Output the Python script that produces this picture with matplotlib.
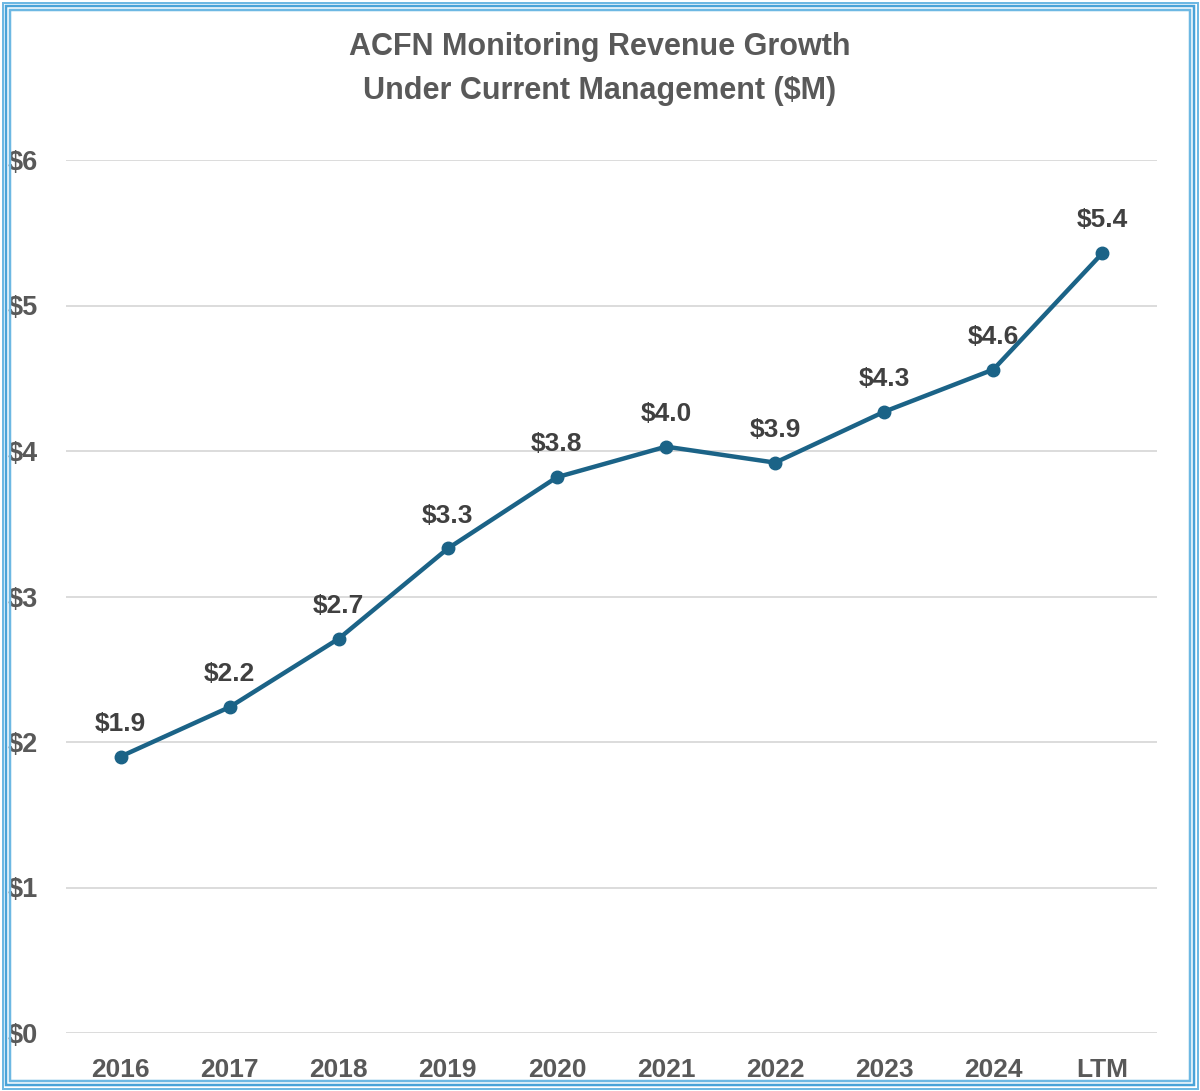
import matplotlib.pyplot as plt
from matplotlib.patches import Rectangle

# chart data ($M)
years = ['2016', '2017', '2018', '2019', '2020', '2021', '2022', '2023', '2024', 'LTM']
revenue = [1.90, 2.24, 2.71, 3.33, 3.82, 4.03, 3.92, 4.27, 4.56, 5.36]
yticks = [0, 1, 2, 3, 4, 5, 6]

line_col = '#1b6387'
grey = '#595959'
dark = '#404040'
plt.rcParams['font.family'] = ['Liberation Sans', 'DejaVu Sans']

W, H = 1200, 1091
fig = plt.figure(figsize=(W / 100, H / 100), dpi=100)
ax = fig.add_axes([66 / W, 1 - 1033 / H, (1157 - 66) / W, (1033 - 160) / H])

x = range(len(years))
ax.plot(x, revenue, color=line_col, lw=3.2, marker='o', ms=9, zorder=3)
for i, v in enumerate(revenue):
    ax.annotate(f'${v:.1f}', (i, v), xytext=(0, 15), textcoords='offset points',
                ha='center', va='bottom', fontsize=19, fontweight='bold', color=dark)

ax.set_xlim(-0.5, len(years) - 0.5)
ax.set_ylim(0, 6)
ax.set_xticks(list(x))
ax.set_xticklabels(years, fontsize=19, fontweight='bold', color=grey)
ax.set_yticks(yticks)
ax.set_yticklabels([f'${t}' for t in yticks], fontsize=19.5, fontweight='bold', color=grey)
for lab in ax.get_yticklabels():
    lab.set_horizontalalignment('left')
ax.tick_params(axis='y', length=0, pad=42)
ax.tick_params(axis='x', length=0, pad=18)
ax.grid(axis='y', color='#d9d9d9', lw=1.3)
ax.set_axisbelow(True)
for s in ax.spines.values():
    s.set_visible(False)

fig.text(0.5, 1 - 47 / H, 'ACFN Monitoring Revenue Growth', ha='center', va='center',
         fontsize=22, fontweight='bold', color=grey)
fig.text(0.5, 1 - 91 / H, 'Under Current Management ($M)', ha='center', va='center',
         fontsize=22, fontweight='bold', color=grey)

# double/triple blue frame around the picture
for off, lw, col in [(2.5, 2.0, '#6db8e3'), (6.0, 2.5, '#4aa3d8'), (10.0, 2.5, '#6db8e3')]:
    fig.patches.append(Rectangle((off / W, off / H), 1 - 2 * off / W, 1 - 2 * off / H,
                                 transform=fig.transFigure, fill=False, lw=lw * 0.72,
                                 edgecolor=col))

fig.savefig('out.png', dpi=100, facecolor='white')
